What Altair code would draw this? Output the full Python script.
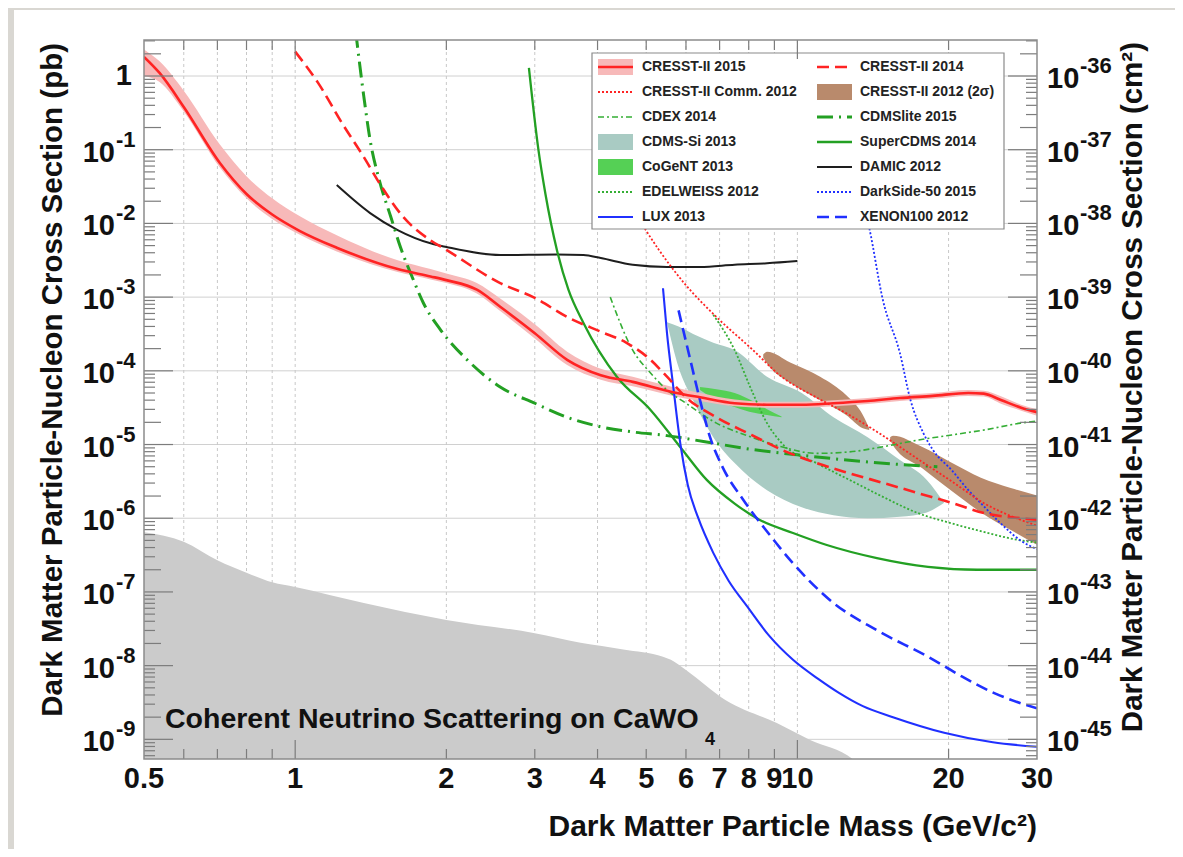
import altair as alt
import pandas as pd

# ---------------- layout ----------------
W, H = 893, 719
X_DOMAIN = [0.5, 30.0]
Y_DOMAIN = [5.41e-10, 3.08]
FONT = "Liberation Sans"

# ---------------- data: mass (GeV/c^2) and cross section (pb) ----------------
cresst15_m = [0.5, 0.537, 0.6, 0.708, 0.8, 0.9, 1.02, 1.21, 1.6, 1.86, 2.0, 2.3, 2.56, 3.0, 3.48, 4.06,
              4.7, 5.65, 6.4, 7.5, 8.7, 10.2, 11.8, 13.8, 16.0, 18.6, 21.9, 23.5, 25.5, 27.9, 30.0]
cresst15_s = [1.82, 1.10, 0.380, 6.61e-2, 2.51e-2, 1.32e-2, 7.94e-3, 4.68e-3, 2.40e-3, 1.91e-3, 1.70e-3,
              1.26e-3, 7.41e-4, 3.24e-4, 1.41e-4, 8.71e-5, 7.08e-5, 5.13e-5, 4.37e-5, 3.63e-5, 3.47e-5,
              3.47e-5, 3.63e-5, 3.89e-5, 4.27e-5, 4.57e-5, 5.01e-5, 4.90e-5, 3.98e-5, 3.16e-5, 2.75e-5]
cresst15_hi = [2.29, 1.58, 0.631, 0.1175, 4.37e-2, 2.19e-2, 1.26e-2, 6.92e-3, 3.16e-3, 2.40e-3, 2.09e-3,
               1.55e-3, 9.55e-4, 4.27e-4, 1.82e-4, 1.07e-4, 8.32e-5, 6.03e-5, 5.01e-5, 4.07e-5, 3.80e-5,
               3.80e-5, 3.98e-5, 4.27e-5, 4.68e-5, 5.01e-5, 5.50e-5, 5.37e-5, 4.47e-5, 3.47e-5, 3.02e-5]
cresst15_lo = [1.0, 0.832, 0.331, 5.75e-2, 2.19e-2, 1.15e-2, 7.08e-3, 4.17e-3, 2.19e-3, 1.74e-3, 1.55e-3,
               1.12e-3, 6.46e-4, 2.75e-4, 1.20e-4, 7.59e-5, 6.17e-5, 4.57e-5, 3.89e-5, 3.31e-5, 3.16e-5,
               3.16e-5, 3.31e-5, 3.55e-5, 3.89e-5, 4.17e-5, 4.57e-5, 4.47e-5, 3.55e-5, 2.88e-5, 2.45e-5]

cresst14_m = [1.0, 1.11, 1.24, 1.37, 1.47, 1.64, 1.86, 2.0, 2.56, 3.0, 3.48, 4.06, 4.57, 5.1, 5.5, 6.0,
              6.9, 8.1, 9.3, 10.9, 12.7, 14.8, 17.4, 20.3, 23.6, 27.8, 30.0]
cresst14_s = [2.14, 0.813, 0.229, 7.94e-2, 3.55e-2, 1.23e-2, 5.89e-3, 4.37e-3, 1.55e-3, 9.77e-4, 5.37e-4,
              3.39e-4, 2.40e-4, 1.41e-4, 8.32e-5, 4.37e-5, 2.34e-5, 1.35e-5, 8.51e-6, 5.62e-6, 4.07e-6,
              3.02e-6, 2.19e-6, 1.62e-6, 1.17e-6, 1.0e-6, 9.55e-7]

comm12_m = [4.6, 5.3, 5.95, 6.9, 8.1, 9.3, 10.9, 12.7, 14.8, 17.4, 20.3, 23.6, 27.8, 30.0]
comm12_s = [2.0e-2, 4.37e-3, 1.55e-3, 5.37e-4, 2.0e-4, 8.32e-5, 4.37e-5, 2.51e-5, 1.32e-5, 6.31e-6,
            3.16e-6, 1.58e-6, 9.55e-7, 7.94e-7]

cresst12a_m = [8.55, 8.7, 9.7, 11.1, 12.5, 13.5, 13.9]
cresst12a_hi = [1.66e-4, 1.82e-4, 1.29e-4, 8.32e-5, 4.68e-5, 2.51e-5, 1.66e-5]
cresst12a_lo = [1.51e-4, 1.26e-4, 6.76e-5, 3.98e-5, 2.51e-5, 1.66e-5, 1.58e-5]
cresst12b_m = [15.3, 15.5, 17.7, 20.2, 23.2, 26.6, 30.0]
cresst12b_hi = [1.26e-5, 1.32e-5, 9.33e-6, 5.75e-6, 3.55e-6, 2.57e-6, 2.04e-6]
cresst12b_lo = [1.15e-5, 9.77e-6, 4.79e-6, 2.40e-6, 1.20e-6, 6.92e-7, 4.37e-7]

cdex_m = [4.24, 4.7, 5.1, 5.5, 6.0, 6.9, 8.1, 9.3, 10.9, 12.7, 14.8, 17.4, 20.3, 23.6, 27.8, 30.0]
cdex_s = [1.0e-3, 1.91e-4, 9.33e-5, 5.50e-5, 3.63e-5, 1.95e-5, 1.26e-5, 9.33e-6, 7.59e-6, 7.94e-6,
          9.33e-6, 1.15e-5, 1.35e-5, 1.58e-5, 1.95e-5, 2.09e-5]

cdmslite_m = [1.32, 1.37, 1.41, 1.47, 1.55, 1.62, 1.72, 1.80, 1.95, 2.2, 2.56, 3.0, 3.48, 4.06, 4.7,
              5.5, 6.5, 8.0, 10.0, 13.0, 16.0, 19.0]
cdmslite_s = [3.98, 0.525, 0.135, 3.89e-2, 1.23e-2, 4.79e-3, 1.70e-3, 8.32e-4, 3.55e-4, 1.41e-4, 6.03e-5,
              3.63e-5, 2.34e-5, 1.74e-5, 1.48e-5, 1.32e-5, 1.10e-5, 8.71e-6, 7.24e-6, 6.03e-6, 5.37e-6,
              5.01e-6]

cdmssi_m = [5.5, 5.8, 6.2, 6.8, 7.5, 8.7, 10.2, 11.8, 13.8, 16.0, 18.1, 19.6]
cdmssi_hi = [4.57e-4, 3.98e-4, 3.16e-4, 2.40e-4, 1.91e-4, 8.32e-5, 5.01e-5, 2.34e-5, 1.26e-5, 6.17e-6,
             3.31e-6, 1.62e-6]
cdmssi_lo = [4.57e-4, 1.12e-4, 3.98e-5, 1.26e-5, 5.62e-6, 2.40e-6, 1.41e-6, 1.10e-6, 1.0e-6, 1.05e-6,
             1.20e-6, 1.62e-6]

cogent_m = [6.4, 6.9, 7.5, 8.2, 8.7, 9.3]
cogent_hi = [6.03e-5, 5.62e-5, 5.01e-5, 3.80e-5, 3.02e-5, 2.40e-5]
cogent_lo = [5.50e-5, 3.98e-5, 3.24e-5, 2.69e-5, 2.51e-5, 2.34e-5]

edelweiss_m = [6.8, 7.5, 8.1, 8.7, 9.3, 10.9, 12.7, 14.8, 17.4, 20.3, 23.6, 27.8, 30.0]
edelweiss_s = [5.75e-4, 1.91e-4, 5.50e-5, 1.95e-5, 1.05e-5, 5.62e-6, 3.31e-6, 1.95e-6, 1.17e-6, 8.51e-7,
               6.46e-7, 5.01e-7, 4.68e-7]

supercdms_m = [2.92, 3.05, 3.15, 3.32, 3.5, 3.75, 4.37, 5.1, 5.9, 6.6, 7.5, 8.4, 9.8, 11.4, 14.4, 18.2,
               22.8, 30.0]
supercdms_s = [1.29, 0.1, 2.51e-2, 4.37e-3, 1.26e-3, 4.47e-4, 8.32e-5, 2.95e-5, 8.51e-6, 3.31e-6, 1.58e-6,
               9.55e-7, 6.31e-7, 4.37e-7, 2.88e-7, 2.19e-7, 2.0e-7, 2.0e-7]

damic_m = [1.21, 1.41, 1.60, 1.86, 2.0, 2.56, 3.32, 3.75, 4.06, 4.7, 5.5, 6.4, 7.5, 8.7, 10.0]
damic_s = [3.31e-2, 1.38e-2, 8.13e-3, 5.37e-3, 4.79e-3, 3.72e-3, 3.80e-3, 3.72e-3, 3.39e-3, 2.75e-3,
           2.57e-3, 2.57e-3, 2.75e-3, 2.88e-3, 3.09e-3]

darkside_m = [13.5, 13.9, 14.8, 16.0, 16.8, 17.8, 18.6, 20.3, 21.9, 23.6, 25.4, 27.8, 30.0]
darkside_s = [2.0e-2, 8.71e-3, 9.12e-4, 1.74e-4, 3.98e-5, 1.45e-5, 8.51e-6, 4.47e-6, 2.40e-6, 1.41e-6,
              8.51e-7, 5.01e-7, 3.80e-7]

lux_m = [5.40, 5.50, 5.65, 5.85, 6.05, 6.35, 6.8, 7.3, 7.95, 8.8, 9.8, 11.0, 12.1, 13.5, 15.5, 19.6,
         24.5, 30.0]
lux_s = [1.32e-3, 3.24e-4, 6.76e-5, 1.0e-5, 2.82e-6, 1.0e-6, 3.39e-7, 1.41e-7, 6.31e-8, 2.51e-8, 1.20e-8,
         6.61e-9, 4.27e-9, 2.82e-9, 2.0e-9, 1.23e-9, 9.12e-10, 7.94e-10]

xenon_m = [5.8, 6.1, 6.4, 6.7, 7.1, 7.8, 8.7, 9.8, 11.8, 14.4, 18.2, 21.3, 24.6, 30.0]
xenon_s = [6.61e-4, 1.55e-4, 3.98e-5, 1.26e-5, 4.90e-6, 1.78e-6, 6.61e-7, 2.45e-7, 7.08e-8, 3.02e-8,
           1.32e-8, 7.08e-9, 4.27e-9, 2.63e-9]

nu_m = [0.5, 0.6, 0.7, 0.8, 0.9, 1.0, 1.37, 2.0, 3.0, 3.7, 4.5, 5.4, 5.6, 6.0, 7.2, 9.1, 10.6, 12.9, 14.0]
nu_s = [6.46e-7, 4.79e-7, 2.69e-7, 1.82e-7, 1.35e-7, 1.17e-7, 7.08e-8, 4.17e-8, 2.75e-8, 2.04e-8,
        1.66e-8, 1.32e-8, 1.20e-8, 8.71e-9, 3.39e-9, 1.66e-9, 9.77e-10, 5.37e-10, 3.16e-10]
nu_base = 1e-10

# ---------------- axis ticks and labels ----------------
x_label_values = [0.5, 1, 2, 3, 4, 5, 6, 7, 8, 9, 10, 20, 30]
x_label_text = ["0.5", "1", "2", "3", "4", "5", "6", "7", "8", "9", "10", "20", "30"]
x_grid_values = [0.6, 0.7, 0.8, 0.9, 1, 2, 3, 4, 5, 6, 7, 8, 9, 10, 20]
x_major_ticks = [1, 10]
x_minor_ticks = [0.6, 0.7, 0.8, 0.9, 2, 3, 4, 5, 6, 7, 8, 9, 20]
y_tick_values = [1, 1e-1, 1e-2, 1e-3, 1e-4, 1e-5, 1e-6, 1e-7, 1e-8, 1e-9]
left_base = ["1", "10", "10", "10", "10", "10", "10", "10", "10", "10"]
left_exp = ["", "-1", "-2", "-3", "-4", "-5", "-6", "-7", "-8", "-9"]
right_base = ["10"] * 10
right_exp = ["-36", "-37", "-38", "-39", "-40", "-41", "-42", "-43", "-44", "-45"]
y_mid_ticks = [v * 2 for v in y_tick_values]
y_small_ticks = [v * m for v in y_tick_values + [1e-10] for m in (3, 4, 5, 6, 7, 8, 9)
                 if Y_DOMAIN[0] <= v * m <= Y_DOMAIN[1]]

legend_labels = ["CRESST-II 2015", "CRESST-II 2014", "CRESST-II Comm. 2012", "CRESST-II 2012 (2\u03c3)",
                 "CDEX 2014", "CDMSlite 2015", "CDMS-Si 2013", "SuperCDMS 2014", "CoGeNT 2013",
                 "DAMIC 2012", "EDELWEISS 2012", "DarkSide-50 2015", "LUX 2013", "XENON100 2012"]

# ---------------- styles ----------------
RED, PINK = "#ff2323", "#f7b9b9"
GREEN, GREEN_L = "#23a023", "#35ae35"
BLUE, BLACK = "#2030ff", "#1e1e1e"
BROWN, TEAL, COGENT, GRAY = "#b98a6c", "#a9cbc3", "#55d055", "#cbcbcb"

STYLE = {
    "CRESST-II 2015": dict(kind="bandline", color=RED, fill=PINK, width=2.6),
    "CRESST-II 2014": dict(kind="line", color=RED, width=2.6, dash=[12, 6]),
    "CRESST-II Comm. 2012": dict(kind="line", color=RED, width=1.8, dash=[2, 2]),
    "CRESST-II 2012 (2\u03c3)": dict(kind="band", fill=BROWN),
    "CDEX 2014": dict(kind="line", color=GREEN_L, width=1.6, dash=[6, 3, 2, 3]),
    "CDMSlite 2015": dict(kind="line", color=GREEN, width=3, dash=[16, 6, 2, 6]),
    "CDMS-Si 2013": dict(kind="band", fill=TEAL),
    "SuperCDMS 2014": dict(kind="line", color=GREEN, width=2.3),
    "CoGeNT 2013": dict(kind="band", fill=COGENT),
    "DAMIC 2012": dict(kind="line", color=BLACK, width=2),
    "EDELWEISS 2012": dict(kind="line", color=GREEN_L, width=1.8, dash=[2, 2]),
    "DarkSide-50 2015": dict(kind="line", color=BLUE, width=1.8, dash=[2, 2]),
    "LUX 2013": dict(kind="line", color=BLUE, width=2.1),
    "XENON100 2012": dict(kind="line", color=BLUE, width=2.6, dash=[12, 6]),
}

xs = alt.Scale(type="log", domain=X_DOMAIN, nice=False)
ys = alt.Scale(type="log", domain=Y_DOMAIN, nice=False)


def X(f):
    return alt.X(f"{f}:Q", scale=xs, axis=None)


def Y(f):
    return alt.Y(f"{f}:Q", scale=ys, axis=None)


one = pd.DataFrame({"k": [0]})
layers = []


def line_layer(mv, sv, label):
    st = STYLE[label]
    kw = dict(color=st["color"], strokeWidth=st["width"], clip=True, interpolate="monotone")
    if "dash" in st:
        kw["strokeDash"] = st["dash"]
    df = pd.DataFrame({"m": mv, "s": sv})
    return alt.Chart(df).mark_line(**kw).encode(x=X("m"), y=Y("s"))


def band_layer(mv, hi, lo, fill):
    df = pd.DataFrame({"m": mv, "hi": hi, "lo": lo})
    return alt.Chart(df).mark_area(color=fill, clip=True, interpolate="monotone").encode(
        x=X("m"), y=Y("hi"), y2=alt.Y2("lo"))


# card
layers.append(alt.Chart(one).mark_rect(color="#ffffff").encode(
    x=alt.value(-130), x2=alt.value(1034), y=alt.value(-30), y2=alt.value(H + 120)))

# grid
layers.append(alt.Chart(pd.DataFrame({"v": y_tick_values})).mark_rule(color="#d0d0d0", strokeWidth=1).encode(
    y=Y("v"), x=alt.value(0), x2=alt.value(W)))
layers.append(alt.Chart(pd.DataFrame({"v": x_grid_values})).mark_rule(
    color="#c8c8c8", strokeWidth=1, strokeDash=[3, 3]).encode(x=X("v"), y=alt.value(0), y2=alt.value(H)))

# neutrino floor
layers.append(band_layer(nu_m, nu_s, [nu_base] * len(nu_m), GRAY))

# bands
layers.append(band_layer(cdmssi_m, cdmssi_hi, cdmssi_lo, TEAL))
layers.append(band_layer(cogent_m, cogent_hi, cogent_lo, COGENT))
layers.append(band_layer(cresst12a_m, cresst12a_hi, cresst12a_lo, BROWN))
layers.append(band_layer(cresst12b_m, cresst12b_hi, cresst12b_lo, BROWN))
layers.append(band_layer(cresst15_m, cresst15_hi, cresst15_lo, PINK))

# lines
layers.append(line_layer(damic_m, damic_s, "DAMIC 2012"))
layers.append(line_layer(supercdms_m, supercdms_s, "SuperCDMS 2014"))
layers.append(line_layer(cdmslite_m, cdmslite_s, "CDMSlite 2015"))
layers.append(line_layer(cdex_m, cdex_s, "CDEX 2014"))
layers.append(line_layer(edelweiss_m, edelweiss_s, "EDELWEISS 2012"))
layers.append(line_layer(darkside_m, darkside_s, "DarkSide-50 2015"))
layers.append(line_layer(xenon_m, xenon_s, "XENON100 2012"))
layers.append(line_layer(lux_m, lux_s, "LUX 2013"))
layers.append(line_layer(comm12_m, comm12_s, "CRESST-II Comm. 2012"))
layers.append(line_layer(cresst14_m, cresst14_s, "CRESST-II 2014"))
layers.append(line_layer(cresst15_m, cresst15_s, "CRESST-II 2015"))

# annotation
layers.append(alt.Chart(one).mark_text(
    text="Coherent Neutrino Scattering on CaWO", align="left", baseline="alphabetic",
    font=FONT, fontSize=28.5, fontWeight="bold", color="#111111").encode(x=alt.value(21), y=alt.value(688)))
layers.append(alt.Chart(one).mark_text(
    text="4", align="left", baseline="alphabetic", font=FONT, fontSize=18, fontWeight="bold",
    color="#111111").encode(x=alt.value(561), y=alt.value(705)))

# legend
LX0, LY0, LX1, LY1 = 448, 13, 860, 189
layers.append(alt.Chart(one).mark_rect(fill="#ffffff", stroke="#8a8a8a", strokeWidth=1.2).encode(
    x=alt.value(LX0), x2=alt.value(LX1), y=alt.value(LY0), y2=alt.value(LY1)))
sym_x = [454, 673]
txt_x = [498, 716]
for i, lab in enumerate(legend_labels):
    col, row = i % 2, i // 2
    yc = 27 + 25 * row
    x0 = sym_x[col]
    st = STYLE[lab]
    if st["kind"] in ("band", "bandline"):
        layers.append(alt.Chart(one).mark_rect(color=st["fill"]).encode(
            x=alt.value(x0), x2=alt.value(x0 + 35), y=alt.value(yc - 8), y2=alt.value(yc + 8)))
    if st["kind"] in ("line", "bandline"):
        kw = dict(color=st["color"], strokeWidth=st["width"])
        if "dash" in st:
            kw["strokeDash"] = st["dash"]
        layers.append(alt.Chart(one).mark_rule(**kw).encode(
            x=alt.value(x0), x2=alt.value(x0 + 35), y=alt.value(yc)))
    layers.append(alt.Chart(one).mark_text(
        text=lab, align="left", baseline="middle", font=FONT, fontSize=14, fontWeight="bold",
        color="#222222").encode(x=alt.value(txt_x[col]), y=alt.value(yc)))

# ticks
TICK = "#7c7c7c"


def yticks(vals, length):
    df = pd.DataFrame({"v": vals})
    return [
        alt.Chart(df).mark_rule(color=TICK, strokeWidth=1.2).encode(y=Y("v"), x=alt.value(0), x2=alt.value(length)),
        alt.Chart(df).mark_rule(color=TICK, strokeWidth=1.2).encode(y=Y("v"), x=alt.value(W - length), x2=alt.value(W)),
    ]


def xticks(vals, length):
    df = pd.DataFrame({"v": vals})
    return [
        alt.Chart(df).mark_rule(color=TICK, strokeWidth=1.2).encode(x=X("v"), y=alt.value(H - length), y2=alt.value(H)),
        alt.Chart(df).mark_rule(color=TICK, strokeWidth=1.2).encode(x=X("v"), y=alt.value(0), y2=alt.value(length)),
    ]


layers += yticks(y_tick_values, 29) + yticks(y_mid_ticks, 17) + yticks(y_small_ticks, 11)
layers += xticks(x_major_ticks, 19) + xticks(x_minor_ticks, 10)

# frame
layers.append(alt.Chart(one).mark_rect(fillOpacity=0, stroke="#8c8c8c", strokeWidth=1.5).encode(
    x=alt.value(0), x2=alt.value(W), y=alt.value(0), y2=alt.value(H)))

# tick labels
LBL = dict(font=FONT, fontWeight="bold", color="#111111")
ylab = pd.DataFrame({"v": y_tick_values, "lb": left_base, "le": left_exp, "rb": right_base, "re": right_exp})
ylab_one = ylab[ylab["le"] == ""]
ylab_pow = ylab[ylab["le"] != ""]
layers.append(alt.Chart(ylab_one).mark_text(align="right", baseline="middle", fontSize=29, **LBL).encode(
    y=Y("v"), x=alt.value(-12), text=alt.Text("lb:N")))
layers.append(alt.Chart(ylab_pow).mark_text(align="right", baseline="middle", fontSize=29, dy=3, **LBL).encode(
    y=Y("v"), x=alt.value(-29), text=alt.Text("lb:N")))
layers.append(alt.Chart(ylab_pow).mark_text(align="left", baseline="middle", fontSize=22, dy=-10, **LBL).encode(
    y=Y("v"), x=alt.value(-28), text=alt.Text("le:N")))
layers.append(alt.Chart(ylab).mark_text(align="left", baseline="middle", fontSize=29, dy=3, **LBL).encode(
    y=Y("v"), x=alt.value(W + 10), text=alt.Text("rb:N")))
layers.append(alt.Chart(ylab).mark_text(align="left", baseline="middle", fontSize=22, dy=-10, **LBL).encode(
    y=Y("v"), x=alt.value(W + 43), text=alt.Text("re:N")))
xlab = pd.DataFrame({"m": x_label_values, "t": x_label_text})
layers.append(alt.Chart(xlab).mark_text(align="center", baseline="top", fontSize=29, **LBL).encode(
    x=X("m"), y=alt.value(H + 6), text=alt.Text("t:N")))

# axis titles
layers.append(alt.Chart(one).mark_text(
    text="Dark Matter Particle Mass (GeV/c\u00b2)", align="right", baseline="alphabetic",
    fontSize=30, **LBL).encode(x=alt.value(W), y=alt.value(796)))
layers.append(alt.Chart(one).mark_text(
    text="Dark Matter Particle-Nucleon Cross Section (pb)", align="right", baseline="alphabetic",
    angle=270, fontSize=29.5, **LBL).encode(x=alt.value(-82), y=alt.value(3)))
layers.append(alt.Chart(one).mark_text(
    text="Dark Matter Particle-Nucleon Cross Section (cm\u00b2)", align="right", baseline="alphabetic",
    angle=270, fontSize=29.5, **LBL).encode(x=alt.value(998), y=alt.value(2)))

chart = alt.layer(*layers).properties(
    width=W, height=H, autosize="none",
    padding={"left": 136, "top": 32, "right": 138, "bottom": 90},
    background="#d9d7d2",
).configure_view(stroke=None)

chart.save("out.html", embed_options={"renderer": "svg", "actions": False})
